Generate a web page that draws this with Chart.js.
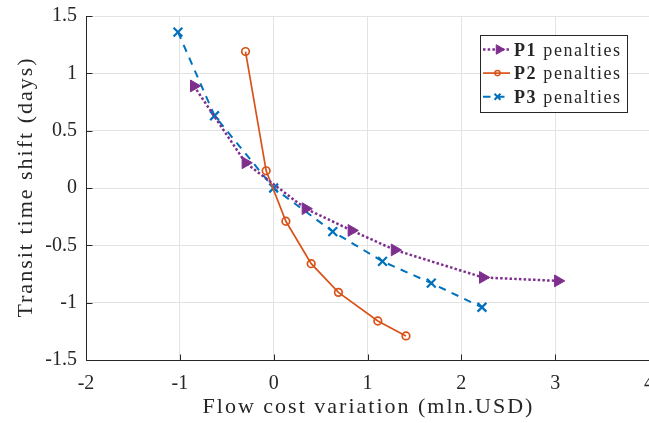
<!DOCTYPE html>
<html><head><meta charset="utf-8">
<script src="https://cdn.jsdelivr.net/npm/chart.js@4"></script>
<style>
html,body{margin:0;padding:0;overflow:hidden;background:#fff;width:649px;height:423px}
#wrap{position:absolute;left:0;top:0;width:720px;height:423px}
</style></head>
<body><div id="wrap"><canvas id="c" width="720" height="423"></canvas></div>
<script>
// ---- data ----
const p1X = [-0.85, -0.30, 0.34, 0.83, 1.29, 2.23, 3.03];
const p1Y = [0.89, 0.22, -0.18, -0.37, -0.54, -0.78, -0.81];
const p2X = [-0.30, -0.08, 0.13, 0.40, 0.69, 1.11, 1.41];
const p2Y = [1.19, 0.15, -0.29, -0.66, -0.91, -1.16, -1.29];
const p3X = [-1.02, -0.63, 0.00, 0.63, 1.16, 1.68, 2.22];
const p3Y = [1.36, 0.63, 0.00, -0.38, -0.64, -0.83, -1.04];
const xTicks = [-2, -1, 0, 1, 2, 3, 4];
const yTicks = [-1.5, -1, -0.5, 0, 0.5, 1, 1.5];
const seriesNames = ['P1', 'P2', 'P3'];
const legendSuffix = ' penalties';
const xTitle = 'Flow cost variation (mln.USD)';
const yTitle = 'Transit time shift (days)';

const FONT = '"Liberation Serif", "Times New Roman", serif';
const AX = '#262626';
const colors = ['#7E2F8E', '#D95319', '#0072BD'];

const toPts = (xs, ys) => xs.map((x, i) => ({x, y: ys[i]}));

const datasets = [
  {label: seriesNames[0], data: toPts(p1X, p1Y), borderColor: colors[0], backgroundColor: colors[0],
   borderWidth: 2.5, borderDash: [2.5, 2.2], borderCapStyle: 'butt',
   pointStyle: 'triangle', rotation: 90, pointRadius: 6.8, pointBorderWidth: 1,
   pointBackgroundColor: colors[0], pointBorderColor: colors[0]},
  {label: seriesNames[1], data: toPts(p2X, p2Y), borderColor: colors[1], backgroundColor: colors[1],
   borderWidth: 1.7,
   pointStyle: 'circle', pointRadius: 3.8, pointBorderWidth: 1.7,
   pointBackgroundColor: 'rgba(255,255,255,0)', pointBorderColor: colors[1]},
  {label: seriesNames[2], data: toPts(p3X, p3Y), borderColor: colors[2], backgroundColor: colors[2],
   borderWidth: 2, borderDash: [7.5, 6.5], borderCapStyle: 'butt',
   pointStyle: 'crossRot', pointRadius: 6.2, pointBorderWidth: 2.2,
   pointBackgroundColor: colors[2], pointBorderColor: colors[2]}
];

function drawMarker(ctx, style, x, y, r, color, lw) {
  ctx.save();
  ctx.strokeStyle = color; ctx.fillStyle = color; ctx.lineWidth = lw; ctx.setLineDash([]);
  ctx.beginPath();
  if (style === 'triangle') {
    ctx.moveTo(x + r, y);
    ctx.lineTo(x - r / 2, y - r * Math.sqrt(3) / 2);
    ctx.lineTo(x - r / 2, y + r * Math.sqrt(3) / 2);
    ctx.closePath(); ctx.fill(); ctx.stroke();
  } else if (style === 'circle') {
    ctx.arc(x, y, r, 0, Math.PI * 2); ctx.stroke();
  } else {
    const d = r * Math.SQRT1_2;
    ctx.moveTo(x - d, y - d); ctx.lineTo(x + d, y + d);
    ctx.moveTo(x + d, y - d); ctx.lineTo(x - d, y + d);
    ctx.stroke();
  }
  ctx.restore();
}

const decor = {
  id: 'decor',
  afterDraw(chart) {
    const ctx = chart.ctx;
    const xs = chart.scales.x, ys = chart.scales.y;
    const a = chart.chartArea;
    ctx.save();
    ctx.strokeStyle = AX; ctx.lineWidth = 1; ctx.setLineDash([]);
    const L = Math.round(a.left) + 0.5, B = Math.round(a.bottom) + 0.5;
    ctx.beginPath();
    ctx.moveTo(L, Math.round(a.top)); ctx.lineTo(L, B);
    ctx.lineTo(Math.round(a.right) + 1, B);
    ctx.stroke();
    ctx.beginPath();
    xTicks.forEach(v => { const px = Math.round(xs.getPixelForValue(v)) + 0.5; ctx.moveTo(px, B); ctx.lineTo(px, B - 6); });
    yTicks.forEach(v => { const py = Math.round(ys.getPixelForValue(v)) + 0.5; ctx.moveTo(L, py); ctx.lineTo(L + 6, py); });
    ctx.stroke();
    ctx.fillStyle = AX;
    ctx.font = '22px ' + FONT;
    try { ctx.letterSpacing = '2px'; } catch (e) {}
    ctx.textAlign = 'center'; ctx.textBaseline = 'alphabetic';
    ctx.fillText(xTitle, (a.left + a.right) / 2 + 1, 413);
    ctx.save();
    ctx.translate(32, (a.top + a.bottom) / 2 - 1);
    ctx.rotate(-Math.PI / 2);
    ctx.fillText(yTitle, 0, 0);
    ctx.restore();
    try { ctx.letterSpacing = '0px'; } catch (e) {}
    const bx = 480.5, by = 35.5, bw = 147, bh = 77;
    ctx.fillStyle = '#fff'; ctx.fillRect(bx, by, bw, bh);
    ctx.strokeStyle = AX; ctx.lineWidth = 1; ctx.strokeRect(bx, by, bw, bh);
    const styles = ['triangle', 'circle', 'cross'];
    const mr = [5.5, 2.6, 4.2];
    const mlw = [1, 1.4, 2];
    datasets.forEach((ds, i) => {
      const cy = 49.5 + i * 23.6;
      ctx.save();
      ctx.strokeStyle = ds.borderColor; ctx.lineWidth = ds.borderWidth;
      ctx.setLineDash(ds.borderDash || []); ctx.lineCap = 'butt';
      ctx.beginPath(); ctx.moveTo(483, cy); ctx.lineTo(510, cy); ctx.stroke();
      ctx.restore();
      drawMarker(ctx, styles[i], i === 0 ? 499 : 497.5, cy, mr[i], ds.borderColor, mlw[i]);
      ctx.fillStyle = AX; ctx.textAlign = 'left'; ctx.textBaseline = 'alphabetic';
      try { ctx.letterSpacing = '1.6px'; } catch (e) {}
      ctx.font = 'bold 18px ' + FONT;
      ctx.fillText(seriesNames[i], 514, cy + 6);
      const w = ctx.measureText(seriesNames[i]).width;
      ctx.font = '18px ' + FONT;
      ctx.fillText(legendSuffix, 514 + w, cy + 6);
      try { ctx.letterSpacing = '0px'; } catch (e) {}
    });
    ctx.restore();
  }
};

new Chart(document.getElementById('c'), {
  type: 'line',
  data: {datasets},
  options: {
    responsive: false, animation: false, devicePixelRatio: 1,
    layout: {padding: {left: 0, right: 71, top: 16, bottom: 0}},
    plugins: {legend: {display: false}, tooltip: {enabled: false}},
    elements: {line: {tension: 0, fill: false}},
    scales: {
      x: {
        type: 'linear', min: -2, max: 4,
        afterBuildTicks: s => { s.ticks = xTicks.map(v => ({value: v})); },
        afterFit: s => { s.height = 63; s.paddingLeft = 0; s.paddingRight = 0; },
        ticks: {font: {family: FONT, size: 20}, color: AX, padding: 12, maxRotation: 0,
                callback: v => String(v)},
        grid: {color: '#e3e3e3', lineWidth: 1, drawTicks: false},
        border: {display: false}
      },
      y: {
        type: 'linear', min: -1.5, max: 1.5,
        afterBuildTicks: s => { s.ticks = yTicks.map(v => ({value: v})); },
        afterFit: s => { s.width = 86; s.paddingTop = 0; s.paddingBottom = 0; },
        ticks: {font: {family: FONT, size: 20}, color: AX, padding: 9,
                callback: v => String(v)},
        grid: {color: '#e3e3e3', lineWidth: 1, drawTicks: false},
        border: {display: false}
      }
    }
  },
  plugins: [decor]
});
</script>
</body></html>
